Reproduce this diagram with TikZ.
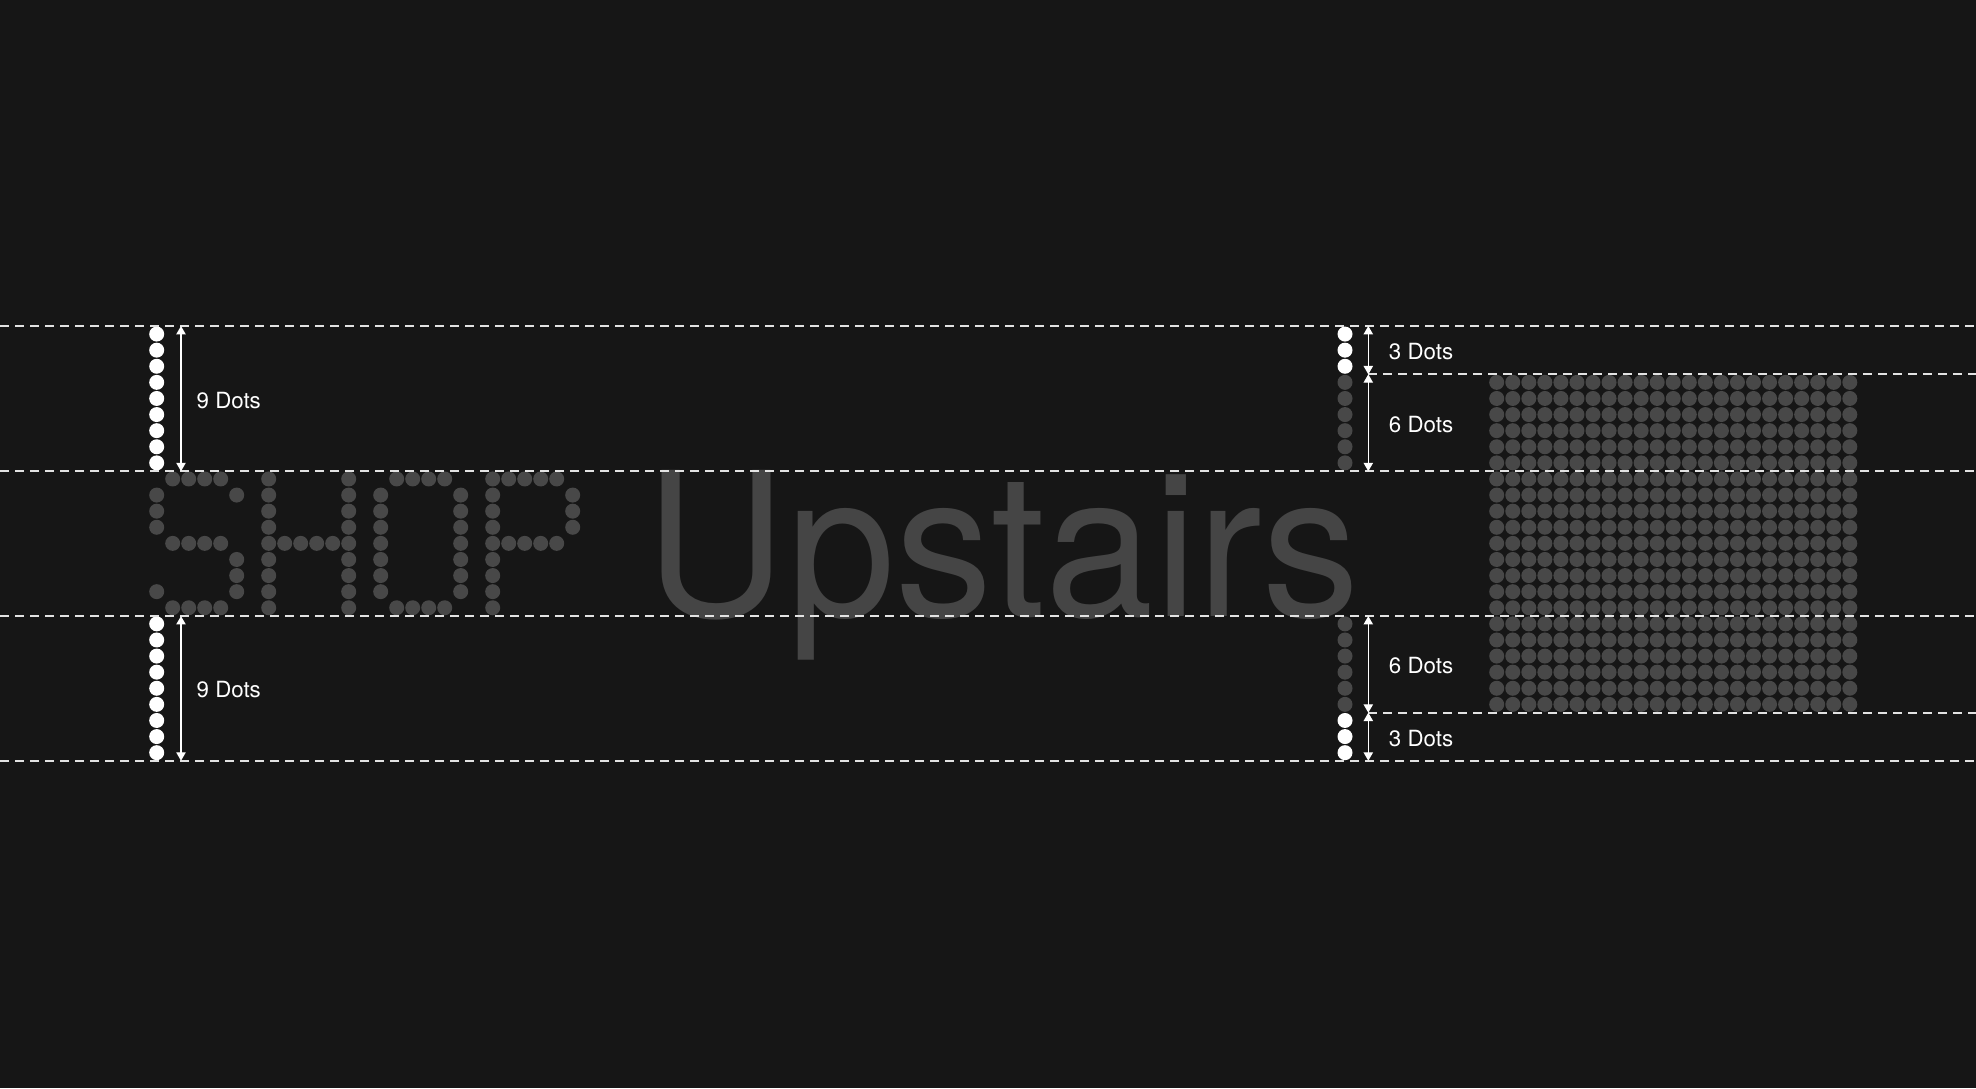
\documentclass[tikz,border=0pt]{standalone}
\usepackage{fontspec}
\setmainfont{TeX Gyre Heros}
\usetikzlibrary{arrows, positioning}
\definecolor{bgdark}{HTML}{161616}
\definecolor{dotgrey}{HTML}{484848}
\definecolor{wordgrey}{HTML}{454545}
\definecolor{guidewhite}{HTML}{E2E2E2}
\tikzstyle{guide} = [draw=guidewhite, line width=2pt, dash pattern=on 9pt off 6pt]
\tikzstyle{measure} = [draw=white, line width=1.3pt, <->, >=triangle 60]
\tikzstyle{dimlabel} = [text=white, inner sep=0pt, font=\fontsize{22.3}{24}\selectfont]
\tikzstyle{bigword} = [text=wordgrey, inner sep=0pt, anchor=base west, font=\fontsize{200.6}{200}\selectfont]
\newcommand{\litdot}[2]{\fill[white] ({#1},{326+16.1*(#2)+8.05}) circle (7.5);}
\newcommand{\dimdot}[2]{\fill[dotgrey] ({#1},{326+16.1*(#2)+8.05}) circle (7.5);}
\newcommand{\shopdot}[2]{\dimdot{156.7+16*(#1)}{9+#2}}

\begin{document}
\begin{tikzpicture}[x=1pt, y=-1pt]
\fill[bgdark] (0,0) rectangle (1976,1088);
\useasboundingbox (0,0) rectangle (1976,1088);

% marker columns
\foreach \r in {0,...,8} {\litdot{156.7}{\r} \litdot{156.7}{\r+18}}
\foreach \r in {0,1,2} {\litdot{1345}{\r} \litdot{1345}{\r+24}}
\foreach \r in {3,...,8} {\dimdot{1345}{\r} \dimdot{1345}{\r+15}}

% dot field
\foreach \c in {0,...,22}
  \foreach \r in {3,...,23} \dimdot{1496.7+16.05*\c}{\r};

% S
\foreach \c/\r in {1/0,2/0,3/0,4/0,0/1,5/1,0/2,0/3,1/4,2/4,3/4,4/4,5/5,5/6,0/7,5/7,1/8,2/8,3/8,4/8} \shopdot{\c}{\r};
% H
\foreach \r in {0,...,8} {\shopdot{7}{\r} \shopdot{12}{\r}}
\foreach \c in {8,...,11} \shopdot{\c}{4};
% O
\foreach \c in {15,...,18} {\shopdot{\c}{0} \shopdot{\c}{8}}
\foreach \r in {1,...,7} {\shopdot{14}{\r} \shopdot{19}{\r}}
% P
\foreach \r in {0,...,8} \shopdot{21}{\r};
\foreach \c in {22,...,25} {\shopdot{\c}{0} \shopdot{\c}{4}}
\foreach \r in {1,2,3} \shopdot{26}{\r};

\node (upstairs) [bigword] at (645.4,616.1) {\scalebox{0.97}[1]{Upstairs}};

% guide lines
\coordinate (g0w) at (0,326);
\coordinate (g0e) at (1976,326);
\coordinate (g9w) at (0,471.2);
\coordinate (g9e) at (1976,471.2);
\coordinate (g18w) at (0,616.1);
\coordinate (g18e) at (1976,616.1);
\coordinate (g27w) at (0,760.7);
\coordinate (g27e) at (1976,760.7);
\coordinate (g3w) at (1368.3,374.3);
\coordinate (g3e) at (1976,374.3);
\coordinate (g24w) at (1368.3,712.7);
\coordinate (g24e) at (1976,712.7);
\foreach \g in {0,3,9,18,24,27} \draw [guide] (g\g w) -- (g\g e);

% measures
\coordinate (la0) at (181,326);
\coordinate (la9) at (181,471.2);
\coordinate (la18) at (181,616.1);
\coordinate (la27) at (181,760.7);
\coordinate (ra0) at (1368.3,326);
\coordinate (ra3) at (1368.3,374.3);
\coordinate (ra9) at (1368.3,471.2);
\coordinate (ra18) at (1368.3,616.1);
\coordinate (ra24) at (1368.3,712.7);
\coordinate (ra27) at (1368.3,760.7);

\draw [measure] (la0) -- node[dimlabel, right=15pt, yshift=-1.5pt] (ninetop) {9 Dots} (la9);
\draw [measure] (la18) -- node[dimlabel, right=15pt, yshift=-1.5pt] (ninebot) {9 Dots} (la27);
\draw [measure] (ra0) -- node[dimlabel, right=20pt, yshift=-1.5pt] (threetop) {3 Dots} (ra3);
\draw [measure] (ra3) -- node[dimlabel, right=20pt, yshift=-1.5pt] (sixtop) {6 Dots} (ra9);
\draw [measure] (ra18) -- node[dimlabel, right=20pt, yshift=-1.5pt] (sixbot) {6 Dots} (ra24);
\draw [measure] (ra24) -- node[dimlabel, right=20pt, yshift=-1.5pt] (threebot) {3 Dots} (ra27);
\end{tikzpicture}
\end{document}
